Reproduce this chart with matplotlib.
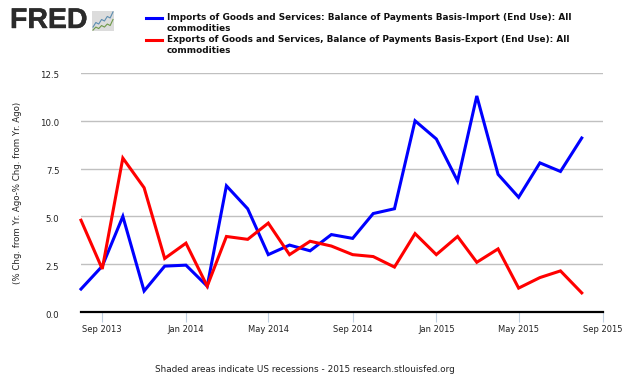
import matplotlib
matplotlib.use('Agg')

import matplotlib.pyplot as plt
import matplotlib.dates as mdates
import matplotlib.patheffects as pe
from matplotlib.transforms import ScaledTranslation
import pandas as pd

W, H = 630, 378

# === Data ===
months = pd.date_range('2013-08-01', '2015-08-01', freq='MS')
imports = [1.2, 2.4, 5.0, 1.1, 2.4, 2.45, 1.35, 6.6, 5.4, 3.0, 3.5, 3.2, 4.05,
           3.85, 5.15, 5.4, 10.0, 9.05, 6.85, 11.3, 7.2, 6.0, 7.8, 7.35, 9.1]
exports = [4.8, 2.25, 8.05, 6.5, 2.8, 3.6, 1.35, 3.95, 3.8, 4.65, 3.0, 3.7, 3.45,
           3.0, 2.9, 2.35, 4.1, 3.0, 3.95, 2.6, 3.3, 1.25, 1.8, 2.15, 1.0]
y_ticks = [0.0, 2.5, 5.0, 7.5, 10.0, 12.5]
x_ticks = ['2013-09-01', '2014-01-01', '2014-05-01', '2014-09-01',
           '2015-01-01', '2015-05-01', '2015-09-01']
import_name = ('Imports of Goods and Services: Balance of Payments Basis-Import (End Use): All\n'
               'commodities')
export_name = ('Exports of Goods and Services, Balance of Payments Basis-Export (End Use): All\n'
               'commodities')
# logo sparkline heights
logo_blue = [3, 6, 5, 8, 7, 10, 9, 13]
logo_green = [1, 3, 2, 4, 3, 5, 4, 8]

fig = plt.figure(figsize=(W / 100, H / 100), dpi=100)
ax = fig.add_axes([81 / W, 1 - 312 / H, (603 - 81) / W, (312 - 73) / H])

# === Series ===
ax.plot(months, imports, color='#0000ff', lw=2.2, solid_joinstyle='miter', clip_on=False, zorder=3)
ax.plot(months, exports, color='#ff0000', lw=2.2, solid_joinstyle='miter', clip_on=False, zorder=4)

# === Axes ===
ax.set_xlim(pd.Timestamp('2013-08-01'), pd.Timestamp('2015-09-01'))
ax.set_ylim(0, 12.5)
ax.set_yticks(y_ticks)
ax.set_yticklabels([f'{v:.1f}' for v in y_ticks], fontsize=6.2, color='#222222')
ax.set_xticks(pd.to_datetime(x_ticks))
ax.xaxis.set_major_formatter(mdates.DateFormatter('%b %Y'))
ax.tick_params(axis='x', length=7.5, width=0.8, color='#c0d0e0', labelsize=6,
               labelcolor='#222222', pad=2)
ax.tick_params(axis='y', length=0, pad=15.5)
# tick labels sit slightly below their gridlines in the original
for label in ax.get_yticklabels():
    label.set_transform(label.get_transform() + ScaledTranslation(0, -2 / 100, fig.dpi_scale_trans))
ax.grid(axis='y', color='#c0c0c0', lw=1)
ax.set_axisbelow(True)
for side in ['top', 'left', 'right']:
    ax.spines[side].set_visible(False)
ax.spines['bottom'].set_color('black')
ax.spines['bottom'].set_linewidth(1.6)
ax.spines['bottom'].set_zorder(5)

fig.text(18 / W, 1 - 193 / H, '(% Chg. from Yr. Ago-% Chg. from Yr. Ago)', rotation=90,
         ha='center', va='center', fontsize=6.2, color='#222222')

# === Legend ===
fig.add_artist(plt.Line2D([146 / W, 162 / W], [1 - 17.5 / H] * 2, color='#0000ff', lw=2.2))
fig.add_artist(plt.Line2D([146 / W, 162 / W], [1 - 39.5 / H] * 2, color='#ff0000', lw=2.2))
fig.text(167 / W, 1 - 13 / H, import_name, ha='left', va='top', fontsize=6.4, weight='bold',
         linespacing=1.22, color='#111111')
fig.text(167 / W, 1 - 35 / H, export_name, ha='left', va='top', fontsize=6.4, weight='bold',
         linespacing=1.22, color='#111111')

# === Footer ===
fig.text(305 / W, 1 - 370 / H, 'Shaded areas indicate US recessions - 2015 research.stlouisfed.org',
         ha='center', va='center', fontsize=6.4, color='#222222')

# === Logo ===
fig.text(10 / W, 1 - 21 / H, 'FRED', ha='left', va='center', fontsize=20.5, weight='bold',
         color='#2b2b2b', family='Liberation Sans',
         path_effects=[pe.withStroke(linewidth=0.3, foreground='#2b2b2b')])
logo = fig.add_axes([92 / W, 1 - 31 / H, 22 / W, 20 / H])
logo.set_facecolor('#dcdcdc')
logo.plot(logo_blue, color='#5b8db0', lw=0.8)
logo.plot(logo_green, color='#6f9a4a', lw=0.8)
logo.set_xticks([])
logo.set_yticks([])
for spine in logo.spines.values():
    spine.set_visible(False)

fig.savefig('out.png', dpi=100)
